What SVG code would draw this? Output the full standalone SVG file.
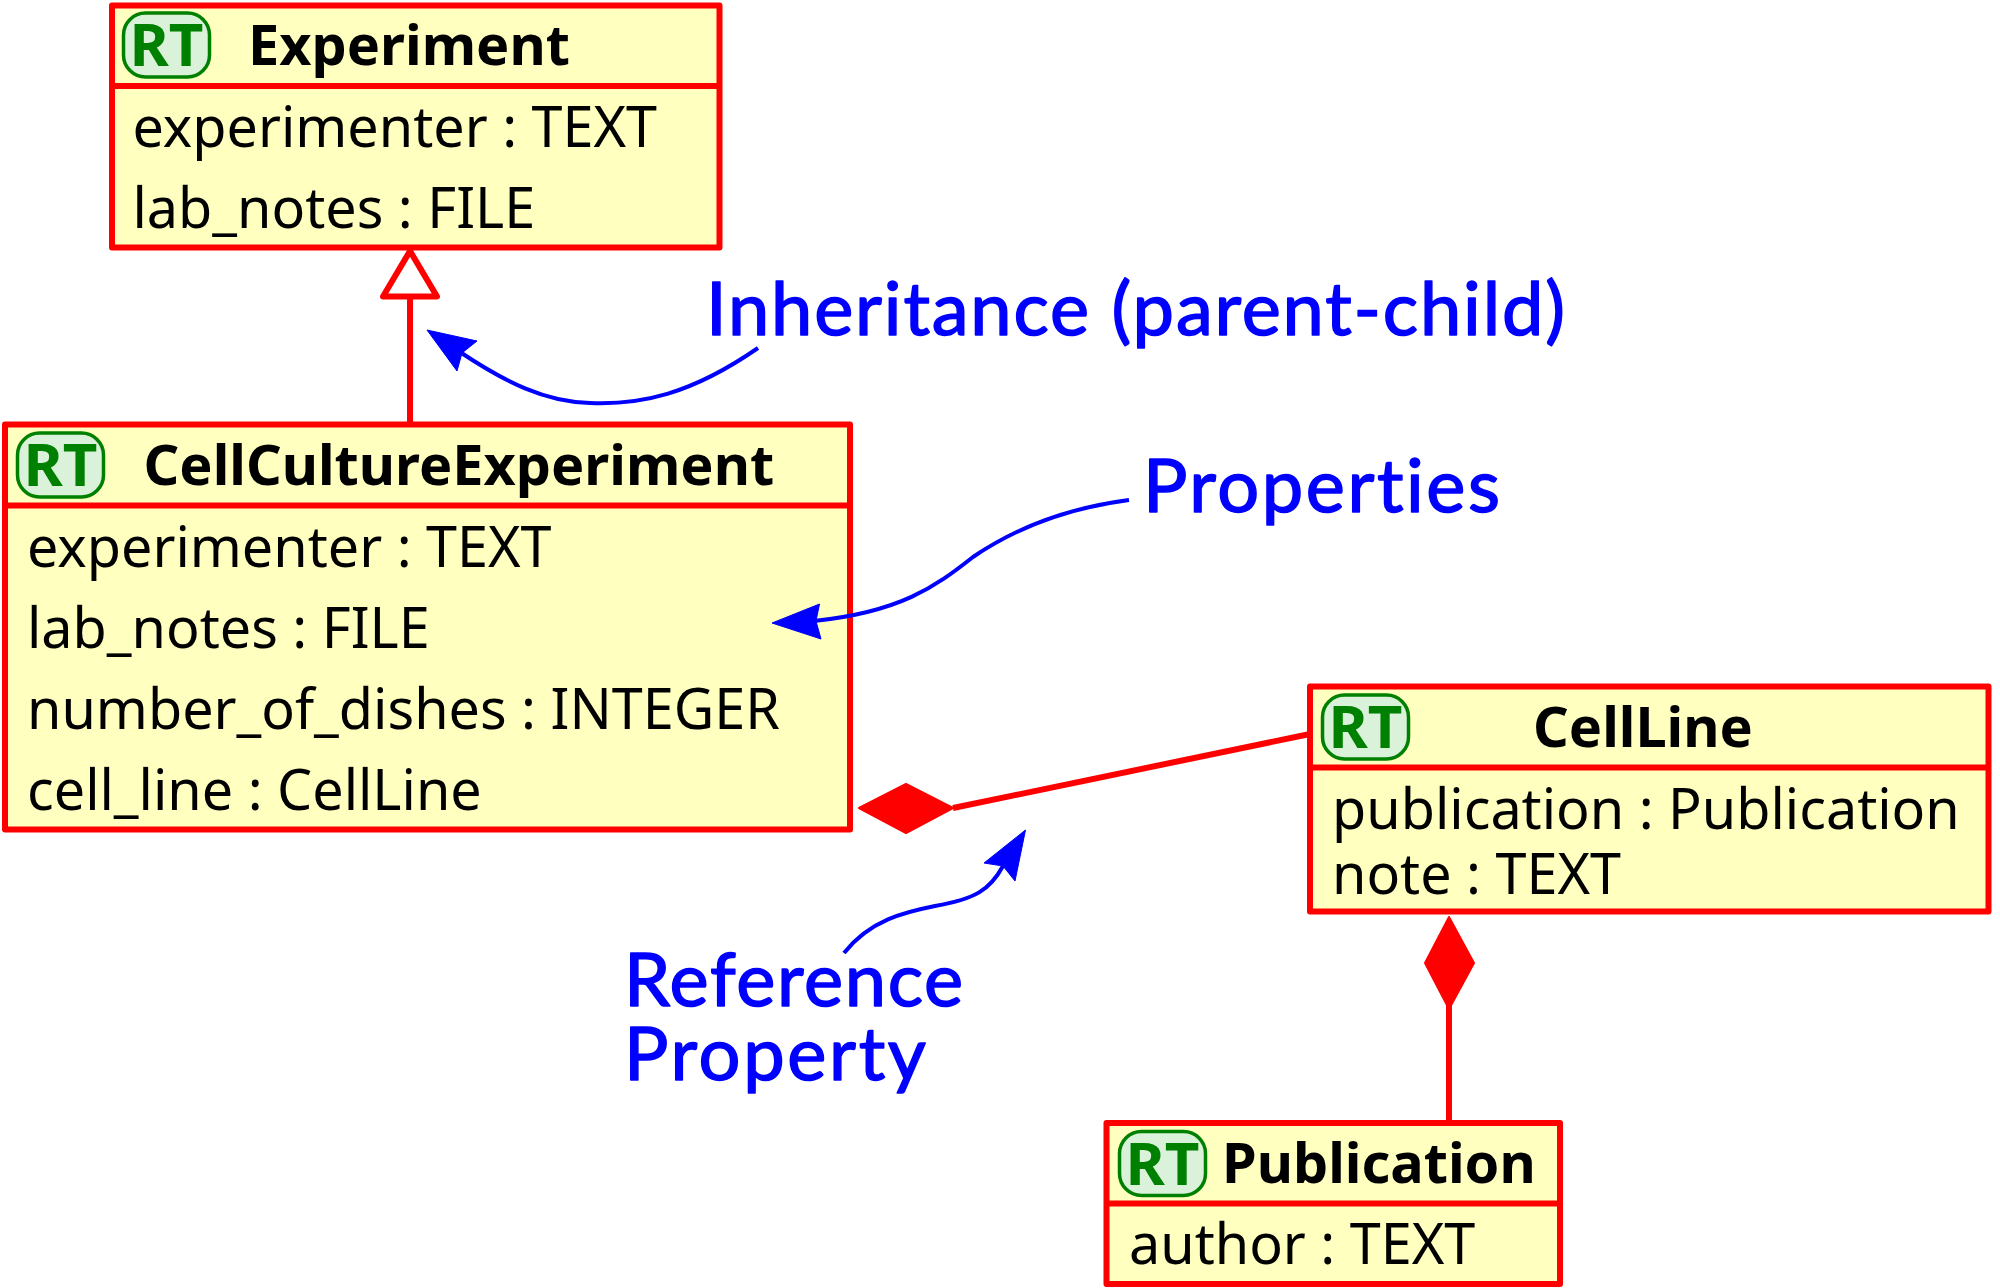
<svg xmlns="http://www.w3.org/2000/svg" width="2000" height="1288" viewBox="0 0 2000 1288">
<style>
.box{fill:#ffffbf;stroke:#ff0000;stroke-width:6;stroke-linejoin:round}
.div{stroke:#ff0000;stroke-width:6;fill:none}
.badge{fill:#d9f2d9;stroke:#008000;stroke-width:3.500}
.rt{font-family:"Noto Sans",sans-serif;font-weight:700;font-size:60px;fill:#008000;text-anchor:middle}
.title{font-family:"Noto Sans",sans-serif;font-weight:700;font-size:55.800px;fill:#000}
.attr{font-family:"Noto Sans",sans-serif;font-size:55.700px;fill:#000}
.note{font-family:"Lato",sans-serif;font-size:74px;fill:#0000ff;stroke:#0000ff;stroke-width:1.500;stroke-linejoin:round;font-variant-ligatures:none}
.rel{stroke:#ff0000;stroke-width:6;fill:none}
.fill{fill:#ff0000;stroke:#ff0000;stroke-width:2;stroke-linejoin:round}
.hollow{fill:#fff;stroke:#ff0000;stroke-width:6;stroke-linejoin:round}
.call{stroke:#0000ff;stroke-width:4;fill:none}
.head{fill:#0000ff;stroke:#0000ff;stroke-width:1;stroke-linejoin:round}
</style>
<g id="connectors">
<path class="rel" d="M410 296V424"/>
<path class="hollow" d="M410 251L437 296.500H383Z"/>
<path class="rel" d="M953 808L1310 734"/>
<path class="fill" d="M859 808L906 784L953 808L906 833Z"/>
<path class="rel" d="M1449 1005V1122"/>
<path class="fill" d="M1449 917L1474 963L1449 1009L1425 963Z"/>
</g>
<g id="Experiment">
<rect class="box" x="112" y="5.500" width="607.500" height="242"/>
<path class="div" d="M112 86H719.500"/>
<rect class="badge" x="123.500" y="13" width="86" height="64" rx="22"/>
<text class="rt" x="166.500" y="66">RT</text>
<text class="title" x="248" y="65">Experiment</text>
<text class="attr" x="132.500" y="146.500">experimenter : TEXT</text>
<text class="attr" x="132.500" y="227.500">lab_notes : FILE</text>
</g>
<g id="CellCultureExperiment">
<rect class="box" x="5" y="424.500" width="845" height="405"/>
<path class="div" d="M5 505.500H850"/>
<rect class="badge" x="17.500" y="433" width="86" height="64" rx="22"/>
<text class="rt" x="60.500" y="486">RT</text>
<text class="title" x="143.500" y="485">CellCultureExperiment</text>
<text class="attr" x="27" y="566.500">experimenter : TEXT</text>
<text class="attr" x="27" y="647.500">lab_notes : FILE</text>
<text class="attr" x="27" y="728.500">number_of_dishes : INTEGER</text>
<text class="attr" x="27" y="810">cell_line : CellLine</text>
</g>
<g id="CellLine">
<rect class="box" x="1310" y="686.500" width="678.500" height="225"/>
<path class="div" d="M1310 767.500H1988.500"/>
<rect class="badge" x="1322.500" y="695" width="86" height="64" rx="22"/>
<text class="rt" x="1365.500" y="748">RT</text>
<text class="title" x="1533" y="747">CellLine</text>
<text class="attr" x="1332" y="828.500">publication : Publication</text>
<text class="attr" x="1332" y="893.500">note : TEXT</text>
</g>
<g id="Publication">
<rect class="box" x="1106.500" y="1123" width="453.500" height="161"/>
<path class="div" d="M1106.500 1203.500H1560"/>
<rect class="badge" x="1119.500" y="1131.500" width="86" height="64" rx="22"/>
<text class="rt" x="1162.500" y="1184.500">RT</text>
<text class="title" x="1222" y="1183">Publication</text>
<text class="attr" x="1129" y="1264">author : TEXT</text>
</g>
<g id="notes">
<path class="call" d="M758 348C690 395 640 405 590 403C545 402 505 382 460 352"/>
<path class="head" d="M427 330L477 341L462 353L457 371Z"/>
<path class="call" d="M1129 500C1075 507 1020 525 973 557C935 587 900 612 814 621"/>
<path class="head" d="M772 623L819.500 604L816 621L821 639Z"/>
<path class="call" d="M844 953C870 920 905 912 935 906C975 899 990 890 1003 866"/>
<path class="head" d="M1025.500 830L1015 881L1003 866L984 863Z"/>
<text class="note" x="706" y="335" textLength="859" lengthAdjust="spacing">Inheritance (parent-child)</text>
<text class="note" x="1143" y="512" textLength="357" lengthAdjust="spacing">Properties</text>
<text class="note" x="624" y="1006" textLength="339" lengthAdjust="spacing">Reference</text>
<text class="note" x="624" y="1080" textLength="302" lengthAdjust="spacing">Property</text>
</g>
</svg>
